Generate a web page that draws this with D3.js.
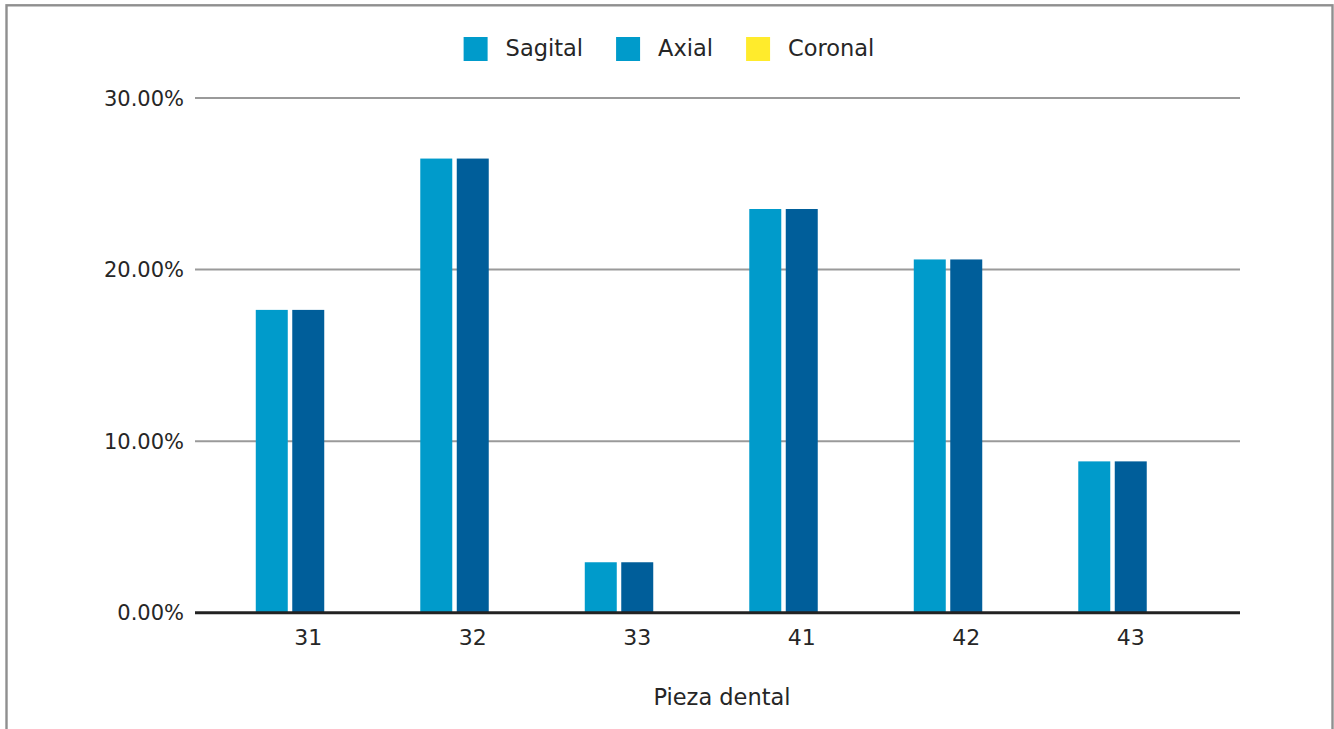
<!DOCTYPE html>
<html>
<head>
<meta charset="utf-8">
<script src="https://cdn.jsdelivr.net/npm/d3@7"></script>
<style>
  html, body { margin: 0; padding: 0; background: #fff; }
  svg { display: block; }
  text { font-family: "DejaVu Sans", "Open Sans", sans-serif; fill: #262626; }
</style>
</head>
<body>
<svg id="chart" width="1334" height="729"></svg>
<script>
// Teeth (pieza dental) and share of cases per view
const categories = ["31", "32", "33", "41", "42", "43"];
const seriesNames = ["Sagital", "Axial", "Coronal"];
const sagital = [0.1765, 0.2647, 0.0294, 0.2353, 0.2059, 0.0882];
const axial   = [0.1765, 0.2647, 0.0294, 0.2353, 0.2059, 0.0882];
const coronal = [0, 0, 0, 0, 0, 0];
const yTicks = [0, 0.10, 0.20, 0.30];
const barColors = ["#009BCB", "#005E9A", "#FFEB2C"];
const legendColors = ["#009BCB", "#009BCB", "#FFEB2C"];

const seriesValues = [sagital, axial, coronal];
const rows = categories.map((c, i) => ({
  cat: c,
  vals: seriesNames.map((s, j) => ({ series: s, value: seriesValues[j][i], color: barColors[j] }))
}));

const svg = d3.select("#chart");

// outer frame (open at the bottom edge of the view)
svg.append("rect")
  .attr("x", 6.5).attr("y", 5.3)
  .attr("width", 1326).attr("height", 800)
  .attr("fill", "none").attr("stroke", "#8f8f8f").attr("stroke-width", 2.4);

const gridLeft = 195, gridRight = 1240;
const y = d3.scaleLinear().domain([0, 0.30]).range([612.7, 98]);
const x0 = d3.scaleBand().domain(categories).range([226, 1213])
  .paddingInner(0.362).paddingOuter(0.181);
const x1 = d3.scaleBand().domain(seriesNames).range([0, x0.bandwidth()])
  .paddingInner(0.123);

const fmt = d3.format(".2%");

// horizontal gridlines
svg.append("g").selectAll("line")
  .data(yTicks.filter(t => t > 0))
  .join("line")
  .attr("x1", gridLeft).attr("x2", gridRight)
  .attr("y1", d => y(d)).attr("y2", d => y(d))
  .attr("stroke", "#9a9a9a").attr("stroke-width", 2);

// y tick labels
svg.append("g").selectAll("text")
  .data(yTicks)
  .join("text")
  .attr("x", 184).attr("y", d => y(d))
  .attr("dy", "0.36em")
  .attr("text-anchor", "end")
  .attr("font-size", 21)
  .text(d => fmt(d));

// bars
const groups = svg.append("g").selectAll("g")
  .data(rows)
  .join("g")
  .attr("transform", d => `translate(${x0(d.cat)},0)`);

groups.selectAll("rect")
  .data(d => d.vals)
  .join("rect")
  .attr("x", d => x1(d.series))
  .attr("width", x1.bandwidth())
  .attr("y", d => y(d.value))
  .attr("height", d => y(0) - y(d.value))
  .attr("fill", d => d.color);

// baseline
svg.append("line")
  .attr("x1", gridLeft).attr("x2", gridRight)
  .attr("y1", y(0)).attr("y2", y(0))
  .attr("stroke", "#222").attr("stroke-width", 3);

// x tick labels
svg.append("g").selectAll("text")
  .data(categories)
  .join("text")
  .attr("x", d => x0(d) + x0.bandwidth() / 2)
  .attr("y", 645)
  .attr("text-anchor", "middle")
  .attr("font-size", 22)
  .text(d => d);

// axis title
svg.append("text")
  .attr("x", 722).attr("y", 705)
  .attr("text-anchor", "middle")
  .attr("font-size", 22.5)
  .text("Pieza dental");

// legend, centred above the plot
const legend = svg.append("g");
const items = legend.selectAll("g")
  .data(seriesNames)
  .join("g");
items.append("rect")
  .attr("width", 24).attr("height", 24)
  .attr("y", 37)
  .attr("fill", (d, i) => legendColors[i]);
items.append("text")
  .attr("x", 42).attr("y", 56)
  .attr("font-size", 22.5)
  .text(d => d);

let cursor = 0;
const positions = [];
items.each(function () {
  const w = d3.select(this).select("text").node().getComputedTextLength();
  positions.push(cursor);
  cursor += 42 + w + 33;
});
const total = cursor - 33;
const startX = 669 - total / 2;
items.attr("transform", (d, i) => `translate(${startX + positions[i]},0)`);
</script>
</body>
</html>
